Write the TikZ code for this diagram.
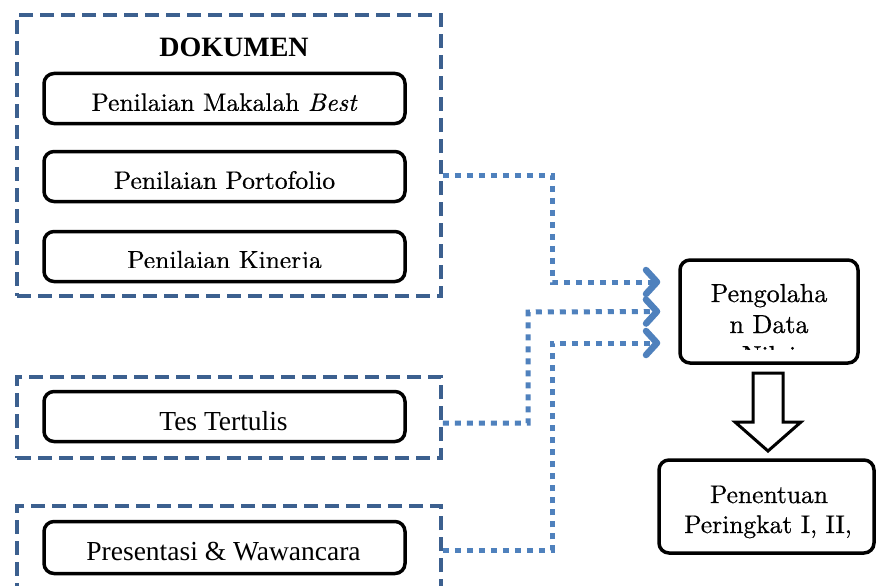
\documentclass[tikz,border=0pt]{standalone}
\usepackage{fontspec}
\newfontfamily\tnr{Liberation Serif}
\newfontfamily\cam{lmroman10-regular.otf}[FakeBold=0.6, ItalicFont=lmroman10-italic.otf, ItalicFeatures={FakeBold=0.6}]
\usetikzlibrary{arrows.meta}
\definecolor{dashblue}{RGB}{60,96,143}
\definecolor{dotblue}{RGB}{79,129,189}
\tikzset{
  groupbox/.style={draw=dashblue, line width=3.5pt, dash pattern=on 14pt off 7pt},
  itembox/.style={draw=black, line width=3.5pt, rounded corners=10pt, fill=white},
  flow/.style={draw=dotblue, line width=5pt, dash pattern=on 6pt off 6pt,
    -{Straight Barb[length=11pt,width=24pt,line width=6.5pt,round]}},
  lm/.style={font=\cam\fontsize{25.5}{30}\selectfont, inner sep=0pt, anchor=base},
  lmr/.style={font=\cam\fontsize{26}{30}\selectfont, inner sep=0pt, anchor=base},
  tm/.style={font=\tnr\fontsize{27.5}{32}\selectfont, inner sep=0pt, anchor=base},
  blockarrow/.style={draw=black, line width=3pt, fill=white, line join=miter},
}
\begin{document}
\begin{tikzpicture}[x=1pt, y=-1pt]
\clip (0,0) rectangle (878,586);
\fill[white] (0,0) rectangle (878,586);

% dashed groups
\node[groupbox, minimum width=424pt, minimum height=281pt] (g1) at (229,155.5) {};
\node[groupbox, minimum width=424pt, minimum height=81pt] (g2) at (229,417.5) {};
\node[groupbox, minimum width=424pt, minimum height=104pt] (g3) at (229,558) {};

\node[font=\tnr\bfseries\fontsize{28}{32}\selectfont, inner sep=0pt, anchor=base] (dok) at (234,57) {DOKUMEN};

% item boxes
\node[itembox, minimum width=361pt, minimum height=50pt] (mak) at (224.5,98.5) {};
\node[itembox, minimum width=361pt, minimum height=50pt] (por) at (224.5,176.5) {};
\node[itembox, minimum width=361pt, minimum height=50pt] (kin) at (224.5,256.5) {};
\node[itembox, minimum width=361pt, minimum height=50pt] (tes) at (224.5,416.5) {};
\node[itembox, minimum width=361pt, minimum height=52pt] (pre) at (224.5,547.5) {};

\begin{scope}
  \clip (40,70) rectangle (410,110);
  \node[lm] (makt) at (224.5,111) {Penilaian Makalah \textit{Best}};
\end{scope}
\begin{scope}
  \clip (40,148) rectangle (410,188.5);
  \node[lm] (port) at (224.5,189) {Penilaian Portofolio};
\end{scope}
\begin{scope}
  \clip (40,228) rectangle (410,267.5);
  \node[lm] (kint) at (224.5,268.5) {Penilaian Kinerja};
\end{scope}
\node[tm] (test) at (223.5,430) {Tes Tertulis};
\node[tm] (pret) at (223.5,560) {Presentasi \& Wawancara};

% right side
\node[itembox, minimum width=178pt, minimum height=103pt] (peng) at (769,311.5) {};
\node[lmr] (pl1) at (769,302) {Pengolaha};
\node[lmr] (pl2) at (769,333) {n Data};
\begin{scope}
  \clip (690,340) rectangle (850,349);
  \node[lmr] (pl3) at (769,364) {Nilai};
\end{scope}

\node[itembox, minimum width=215pt, minimum height=93pt] (pen) at (766.5,506.5) {};
\node[lm] (pn1) at (769,503) {Penentuan};
\node[lm] (pn2) at (768,533) {Peringkat I, II,};

\draw[blockarrow] (753,373) -- (783,373) -- (783,422) -- (801,422) -- (768,451)
  -- (735,422) -- (753,422) -- cycle;

% dotted connectors
\draw[flow] ([yshift=-19.5pt]g1.east) -| (552,282) -- ([xshift=-18pt,yshift=29.5pt]peng.west);
\draw[flow] ([yshift=-5.5pt]g2.east) -| (528,312) -- ([xshift=-18pt]peng.west);
\draw[flow] ([yshift=8pt]g3.east) -| (552,343) -- ([xshift=-18pt,yshift=-31.5pt]peng.west);
\end{tikzpicture}
\end{document}
